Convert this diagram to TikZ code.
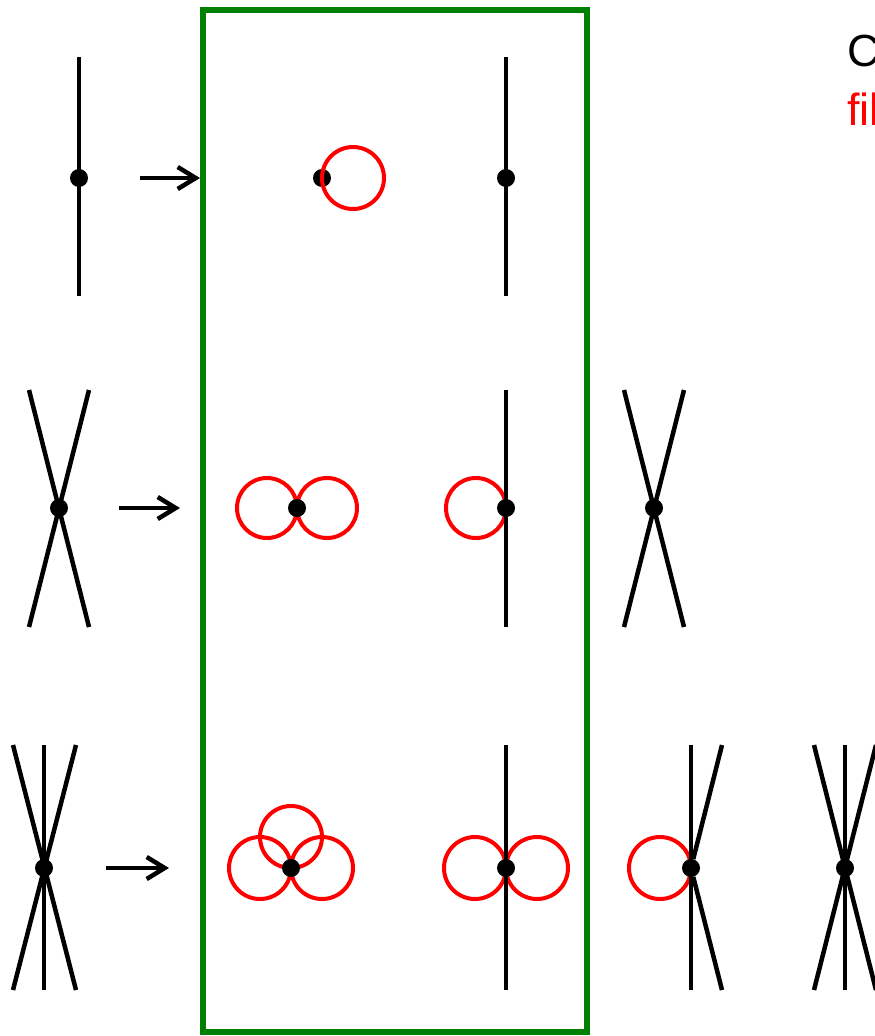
\documentclass[tikz,border=0pt]{standalone}
\usepackage{fontspec}
\setmainfont{Liberation Sans}
\usetikzlibrary{arrows.meta}
\begin{document}
\begin{tikzpicture}[x=1pt,y=-1pt,
  blk/.style={line width=4.5pt,black},
  loopc/.style={line width=4pt,red},
  dotn/.style={circle,fill=black,inner sep=0pt,minimum size=18pt},
  arr/.style={line width=4.5pt,-{Straight Barb[length=18pt,width=22pt]}},
  frame/.style={draw=green!50!black,line width=6.5pt},
  lbl/.style={font=\fontsize{45}{50}\selectfont,inner sep=0pt,anchor=base west}]
\useasboundingbox (0,0) rectangle (875,1036);
% frame
\coordinate (f1) at (203,10); \coordinate (f2) at (587,1032);
\draw[frame] (f1) rectangle (f2);
% text (cut off at the right edge, as in the reference)
\node[lbl,text=black] (t1) at (847,66) {C};
\node[lbl,text=red] (t2) at (847,125) {f\kern0pt il};
% ---------- row 1 ----------
\coordinate (a1t) at (79,57); \coordinate (a1b) at (79,296);
\draw[blk] (a1t) -- (a1b);
\node[dotn] (a1) at (79,178) {};
\coordinate (r1s) at (140,178); \coordinate (r1e) at (200,178);
\draw[arr] (r1s) -- (r1e);
\node[dotn] (b1) at (322,178) {};
\coordinate (b1c) at (353,178);
\draw[loopc] (b1c) circle[radius=31];
\coordinate (c1t) at (506,57); \coordinate (c1b) at (506,296);
\draw[blk] (c1t) -- (c1b);
\node[dotn] (c1) at (506,178) {};
% ---------- row 2 ----------
\coordinate (a2p) at (29,390); \coordinate (a2q) at (89,390);
\coordinate (a2r) at (89,627); \coordinate (a2s) at (29,627);
\draw[blk] (a2p) -- (a2r);
\draw[blk] (a2q) -- (a2s);
\node[dotn] (a2) at (59,508) {};
\coordinate (r2s) at (119,508); \coordinate (r2e) at (180,508);
\draw[arr] (r2s) -- (r2e);
\coordinate (b2l) at (267,508); \coordinate (b2r) at (327,508);
\draw[loopc] (b2l) circle[radius=30];
\draw[loopc] (b2r) circle[radius=30];
\node[dotn] (b2) at (297,508) {};
\coordinate (c2t) at (506,390); \coordinate (c2b) at (506,627);
\coordinate (c2l) at (476,508);
\draw[loopc] (c2l) circle[radius=30];
\draw[blk] (c2t) -- (c2b);
\node[dotn] (c2) at (506,508) {};
\coordinate (d2p) at (624,390); \coordinate (d2q) at (684,390);
\coordinate (d2r) at (684,627); \coordinate (d2s) at (624,627);
\draw[blk] (d2p) -- (d2r);
\draw[blk] (d2q) -- (d2s);
\node[dotn] (d2) at (654,508) {};
% ---------- row 3 ----------
\coordinate (a3p) at (13,745); \coordinate (a3q) at (76,745);
\coordinate (a3r) at (76,990); \coordinate (a3s) at (13,990);
\coordinate (a3t) at (44,745); \coordinate (a3b) at (44,990);
\draw[blk] (a3p) -- (a3r);
\draw[blk] (a3q) -- (a3s);
\draw[blk] (a3t) -- (a3b);
\node[dotn] (a3) at (44,868) {};
\coordinate (r3s) at (106,868); \coordinate (r3e) at (169,868);
\draw[arr] (r3s) -- (r3e);
\coordinate (b3l) at (260,868); \coordinate (b3r) at (322,868);
\coordinate (b3u) at (291,837);
\draw[loopc] (b3l) circle[radius=31];
\draw[loopc] (b3r) circle[radius=31];
\draw[loopc] (b3u) circle[radius=31];
\node[dotn] (b3) at (291,868) {};
\coordinate (c3t) at (506,745); \coordinate (c3b) at (506,990);
\coordinate (c3l) at (475,868); \coordinate (c3r) at (537,868);
\draw[loopc] (c3l) circle[radius=31];
\draw[loopc] (c3r) circle[radius=31];
\draw[blk] (c3t) -- (c3b);
\node[dotn] (c3) at (506,868) {};
\coordinate (d3t) at (691,745); \coordinate (d3b) at (691,990);
\coordinate (d3u) at (722,745); \coordinate (d3d) at (722,990);
\coordinate (d3l) at (660,868);
\draw[loopc] (d3l) circle[radius=31];
\draw[blk] (d3t) -- (d3b);
\node[dotn] (d3) at (691,868) {};
\draw[blk] (d3) -- (d3u);
\draw[blk] (d3) -- (d3d);
\coordinate (e3p) at (814,745); \coordinate (e3q) at (876,745);
\coordinate (e3r) at (876,990); \coordinate (e3s) at (814,990);
\coordinate (e3t) at (845,745); \coordinate (e3b) at (845,990);
\draw[blk] (e3p) -- (e3r);
\draw[blk] (e3q) -- (e3s);
\draw[blk] (e3t) -- (e3b);
\node[dotn] (e3) at (845,868) {};
\end{tikzpicture}
\end{document}
